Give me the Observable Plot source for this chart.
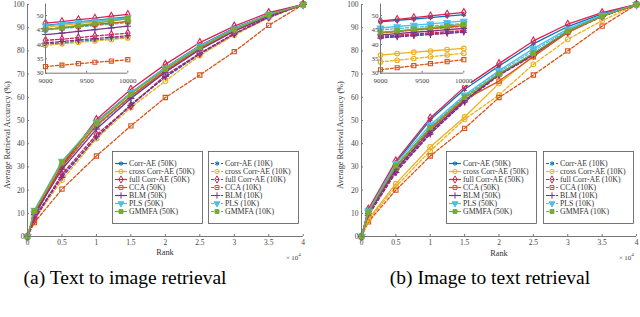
<!DOCTYPE html>
<html><head><meta charset="utf-8">
<script src="https://cdn.jsdelivr.net/npm/d3@7"></script>
<script src="https://cdn.jsdelivr.net/npm/@observablehq/plot@0.6"></script>
<style>
body{margin:0;background:#fff;width:640px;height:317px;position:relative;overflow:hidden;font-family:"Liberation Serif","Times New Roman","DejaVu Serif",serif;color:#333}
.abs{position:absolute;white-space:nowrap}
svg{overflow:visible}
.cap{font-size:19.5px;color:#000;transform:translateX(-50%)}
.ylab{font-size:8.3px;color:#333;transform-origin:0 0;transform:rotate(-90deg)}
.xlab{font-size:8.3px;color:#333;transform:translateX(-50%)}
.exp{font-size:7px;color:#444}
</style></head>
<body>
<script>
// ---------- data ----------
const rank = [0, 1000, 5000, 10000, 15000, 20000, 25000, 30000, 35000, 40000];
const insetRank = [9000, 9200, 9400, 9600, 9800, 10000];
const rankTicks = [0, 5000, 10000, 15000, 20000, 25000, 30000, 35000, 40000];
const accTicks = [0, 10, 20, 30, 40, 50, 60, 70, 80, 90, 100];
const insetXTicks = [9000, 9500, 10000];
const insetYTicks = [30, 35, 40, 45, 50];
const models = ["Corr-AE", "cross Corr-AE", "full Corr-AE", "CCA", "BLM", "PLS", "GMMFA"];
const sizes = ["50K", "10K"];
const colors = ["#0072BD", "#EDB120", "#DE1F4E", "#D95319", "#7E2F8E", "#4DBEEE", "#77AC30"];
const captions = ["(a) Text to image retrieval", "(b) Image to text retrieval"];

// (a) Text to image retrieval, main curves (rows follow `models`)
const t2iMain50 = [
  [0, 10.2, 31.0, 49.5, 62.0, 72.8, 82.3, 89.8, 95.8, 100],
  [0, 10.5, 31.5, 49.0, 61.5, 72.5, 82.0, 89.5, 95.6, 100],
  [0, 8.5, 30.5, 50.4, 63.5, 74.2, 83.6, 90.7, 96.5, 100],
  [0, 10.0, 30.0, 48.0, 60.5, 71.5, 81.0, 88.8, 95.3, 100],
  [0, 9.5, 29.0, 46.3, 59.5, 70.8, 80.5, 88.5, 95.0, 100],
  [0, 11.4, 32.5, 49.3, 62.0, 72.7, 82.0, 89.5, 95.6, 100],
  [0, 11.0, 32.0, 48.9, 61.5, 72.2, 81.5, 89.2, 95.5, 100]
];
const t2iMain10 = [
  [0, 8.0, 26.5, 42.5, 57.0, 68.6, 78.6, 87.2, 94.5, 100],
  [0, 7.5, 24.3, 42.2, 55.6, 67.0, 78.0, 86.8, 94.3, 100],
  [0, 7.0, 26.9, 43.9, 56.4, 69.5, 79.0, 87.5, 94.6, 100],
  [0, 6.0, 20.4, 34.7, 47.7, 59.9, 69.6, 79.7, 91.0, 100],
  [0, 8.0, 25.5, 43.0, 56.5, 69.0, 78.8, 87.3, 94.5, 100],
  [0, 10.0, 30.0, 47.5, 60.0, 71.0, 80.8, 88.8, 95.2, 100],
  [0, 10.0, 30.5, 47.8, 60.5, 71.5, 81.0, 89.0, 95.3, 100]
];
const t2iInset50 = [
  [46.6, 47.2, 47.8, 48.3, 48.9, 49.5],
  [45.9, 46.6, 47.2, 47.8, 48.4, 49.0],
  [47.4, 47.9, 48.6, 49.1, 49.8, 50.4],
  [45.2, 45.7, 46.3, 46.9, 47.4, 48.0],
  [43.4, 43.9, 44.5, 45.1, 45.7, 46.3],
  [46.4, 47.0, 47.6, 48.1, 48.7, 49.3],
  [45.1, 45.8, 46.6, 47.3, 48.1, 48.9]
];
const t2iInset10 = [
  [40.0, 40.5, 41.0, 41.5, 42.0, 42.5],
  [39.7, 40.2, 40.7, 41.2, 41.7, 42.2],
  [41.4, 41.8, 42.3, 42.9, 43.4, 43.9],
  [32.3, 32.8, 33.3, 33.8, 34.2, 34.7],
  [40.5, 41.0, 41.5, 42.0, 42.5, 43.0],
  [44.9, 45.5, 46.0, 46.5, 47.0, 47.5],
  [45.2, 45.7, 46.2, 46.8, 47.3, 47.8]
];

// (b) Image to text retrieval
const i2tMain50 = [
  [0, 11.5, 31.8, 50.3, 63.5, 73.5, 83.0, 90.5, 96.0, 100],
  [0, 7.5, 22.8, 38.6, 51.5, 66.0, 77.8, 88.0, 95.0, 100],
  [0, 11.8, 32.6, 51.1, 64.5, 74.5, 84.3, 91.5, 96.5, 100],
  [0, 10.0, 30.4, 46.5, 59.0, 67.0, 77.5, 88.0, 95.0, 100],
  [0, 10.0, 29.0, 45.5, 58.5, 70.0, 78.5, 88.5, 95.0, 100],
  [0, 11.0, 31.5, 48.1, 61.0, 71.5, 81.0, 89.5, 95.5, 100],
  [0, 10.5, 30.5, 46.9, 60.0, 70.2, 79.0, 88.5, 95.0, 100]
];
const i2tMain10 = [
  [0, 10.0, 28.5, 44.5, 58.5, 70.0, 78.5, 88.3, 95.0, 100],
  [0, 7.0, 21.5, 36.9, 50.5, 61.0, 74.2, 85.0, 93.0, 100],
  [0, 9.5, 28.0, 44.8, 58.5, 69.8, 78.3, 88.2, 95.0, 100],
  [0, 6.3, 20.0, 34.7, 46.6, 59.9, 69.6, 80.0, 90.7, 100],
  [0, 9.0, 27.6, 44.2, 58.0, 69.5, 78.0, 88.0, 94.8, 100],
  [0, 10.5, 30.0, 47.3, 60.5, 71.0, 80.0, 89.0, 95.3, 100],
  [0, 10.0, 29.5, 46.2, 59.5, 70.0, 78.8, 88.5, 95.0, 100]
];
const i2tInset50 = [
  [47.8, 48.3, 48.8, 49.3, 49.8, 50.3],
  [36.3, 36.8, 37.3, 37.7, 38.2, 38.6],
  [48.1, 48.7, 49.3, 49.9, 50.5, 51.1],
  [44.0, 44.5, 45.0, 45.5, 46.0, 46.5],
  [43.3, 43.7, 44.2, 44.6, 45.1, 45.5],
  [45.7, 46.2, 46.7, 47.1, 47.6, 48.1],
  [44.2, 44.7, 45.3, 45.8, 46.4, 46.9]
];
const i2tInset10 = [
  [42.5, 42.9, 43.3, 43.7, 44.1, 44.5],
  [33.9, 34.5, 35.1, 35.7, 36.3, 36.9],
  [42.8, 43.2, 43.6, 44.0, 44.4, 44.8],
  [31.2, 31.9, 32.6, 33.3, 34.0, 34.7],
  [42.2, 42.6, 43.0, 43.4, 43.8, 44.2],
  [45.0, 45.5, 45.9, 46.4, 46.8, 47.3],
  [44.0, 44.4, 44.9, 45.3, 45.8, 46.2]
];

// ---------- styling ----------
const triangleDown = {
  draw(ctx, size) {
    const h = Math.sqrt(size / (Math.sqrt(3) * 3));
    ctx.moveTo(0, 2 * h);
    ctx.lineTo(Math.sqrt(3) * h, -h);
    ctx.lineTo(-Math.sqrt(3) * h, -h);
    ctx.closePath();
  }
};
const symbols = ["asterisk", "circle", "diamond", "square", "plus", triangleDown, "square"];
const filled = [false, false, false, false, false, true, true];
const axisColor = "#777";
const textColor = "#444";
const FONT = "'Liberation Serif', 'Times New Roman', 'DejaVu Serif', serif";

function seriesMarks(xs, rows50, rows10, r) {
  const marks = [];
  const order = [];
  models.forEach((m, i) => order.push([i, 1]));
  models.forEach((m, i) => order.push([i, 0]));
  for (const [i, s] of order) {
    const vals = s === 0 ? rows50[i] : rows10[i];
    const data = xs.map((x, k) => ({x, y: vals[k]}));
    marks.push(Plot.line(data, {x: "x", y: "y", stroke: colors[i], strokeWidth: 1.3,
      strokeDasharray: s === 1 ? "3,2" : null}));
    marks.push(Plot.dot(data, {x: "x", y: "y", symbol: symbols[i], r,
      stroke: colors[i], fill: filled[i] ? colors[i] : "none", strokeWidth: 1.1}));
  }
  return marks;
}

function place(el, left, top) {
  const d = document.createElement("div");
  d.className = "abs";
  d.style.left = left + "px";
  d.style.top = top + "px";
  d.appendChild(el);
  document.body.appendChild(d);
  return d;
}
function label(text, cls, left, top, html) {
  const d = document.createElement("div");
  d.className = "abs " + cls;
  d.style.left = left + "px";
  d.style.top = top + "px";
  if (html) d.innerHTML = text; else d.textContent = text;
  document.body.appendChild(d);
}

function mainPlot(rows50, rows10, width, mLeft, mRight) {
  return Plot.plot({
    width, height: 265, marginLeft: mLeft, marginRight: mRight, marginTop: 4, marginBottom: 29,
    style: {fontFamily: FONT, background: "transparent"},
    x: {domain: [0, 40000]},
    y: {domain: [0, 100]},
    marks: [
      ...seriesMarks(rank, rows50, rows10, 2.4),
      Plot.ruleY([0], {stroke: axisColor}),
      Plot.ruleX([0], {stroke: axisColor}),
      Plot.axisX({ticks: rankTicks, tickFormat: d => d / 1e4, tickSize: -2, tickPadding: 5,
        fontSize: 7.5, color: textColor, stroke: axisColor, label: null}),
      Plot.axisY({ticks: accTicks, tickSize: -2, tickPadding: 5, fontSize: 7.5,
        color: textColor, stroke: axisColor, label: null})
    ]
  });
}

function insetPlot(rows50, rows10, width, height, mLeft, mRight) {
  return Plot.plot({
    width, height, marginLeft: mLeft, marginRight: mRight, marginTop: 3.5, marginBottom: height - 72.7,
    style: {fontFamily: FONT, background: "#fff"},
    x: {domain: [9000, 10000]},
    y: {domain: [30, 54]},
    marks: [
      ...seriesMarks(insetRank, rows50, rows10, 2.3),
      Plot.ruleY([30], {stroke: axisColor}),
      Plot.ruleX([9000], {stroke: axisColor}),
      Plot.axisX({ticks: insetXTicks, tickFormat: d => String(d), tickSize: -2, tickPadding: 6.5,
        fontSize: 7, color: textColor, stroke: axisColor, label: null}),
      Plot.axisY({ticks: insetYTicks, tickSize: -2, tickPadding: 4, fontSize: 7,
        color: textColor, stroke: axisColor, label: null})
    ]
  });
}

function legendPlot(sizeIdx) {
  const labels = models.map(m => `${m} (${sizes[sizeIdx]})`);
  const rows = models.map((m, i) => ({label: labels[i], i}));
  return Plot.plot({
    width: 90, height: 72, margin: 0,
    style: {fontFamily: FONT, background: "#fff"},
    x: {domain: [0, 90], range: [0, 90], axis: null},
    y: {type: "point", domain: labels, range: [4.7, 66.7], axis: null},
    marks: [
      Plot.frame({stroke: "#555", strokeWidth: 0.8}),
      ...rows.map(r => Plot.link([r], {x1: 2.5, x2: 14.5, y1: "label", y2: "label",
        stroke: colors[r.i], strokeWidth: 1.2, strokeDasharray: sizeIdx === 1 ? "3,2" : null})),
      ...rows.map(r => Plot.dot([r], {x: 8.5, y: "label", symbol: symbols[r.i], r: 2.2,
        stroke: colors[r.i], fill: filled[r.i] ? colors[r.i] : "none", strokeWidth: 1})),
      Plot.text(rows, {x: 16.5, y: "label", text: "label", textAnchor: "start",
        fontSize: 7.8, fill: "#333"})
    ]
  });
}

// ---------- panel (a) ----------
place(mainPlot(t2iMain50, t2iMain10, 320, 27, 17.3), 0, 0);
place(insetPlot(t2iInset50, t2iInset10, 106, 85, 16, 7.7), 29, 0);
place(legendPlot(0), 111.5, 151);
place(legendPlot(1), 208, 151);
label("Average Retrieval Accuracy (%)", "ylab", 3, 189);
label("Rank", "xlab", 165, 248);
label("&times;&thinsp;10<sup style='font-size:5px;vertical-align:4px'>4</sup>", "exp", 286, 252, true);
label(captions[0], "cap", 125, 267);

// ---------- panel (b) ----------
place(mainPlot(i2tMain50, i2tMain10, 307, 28, 4), 333, 0);
place(insetPlot(i2tInset50, i2tInset10, 108, 85, 17, 7.7), 363, 0);
place(legendPlot(0), 446, 151);
place(legendPlot(1), 542.5, 151);
label("Average Retrieval Accuracy (%)", "ylab", 336, 189);
label("Rank", "xlab", 499, 249);
label("&times;&thinsp;10<sup style='font-size:5px;vertical-align:4px'>4</sup>", "exp", 619, 252, true);
label(captions[1], "cap", 490, 267);
</script>
</body></html>
